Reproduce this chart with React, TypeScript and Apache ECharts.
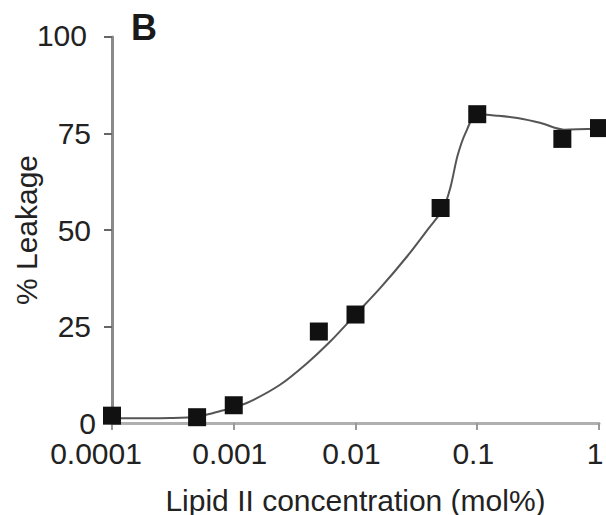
import React, { useEffect, useRef } from "react";
import * as echarts from "echarts";

const concentrations = [0.0001, 0.0005, 0.001, 0.005, 0.01, 0.05, 0.1, 0.5, 1];
const leakage = [1.9, 1.5, 4.6, 23.7, 28.1, 55.7, 80.0, 73.6, 76.4];

const fitX = [0.0001, 0.0003, 0.0005, 0.00068, 0.001, 0.00137, 0.0024, 0.004, 0.0062, 0.01, 0.016, 0.0266, 0.04, 0.0525, 0.0605, 0.0687, 0.08, 0.1, 0.147, 0.214, 0.333, 0.515, 1];
const fitY = [1.2, 1.3, 1.6, 2.6, 4.0, 5.6, 9.9, 15.5, 21.1, 28.1, 35.0, 43.2, 50.5, 55.5, 61.3, 69.1, 75.1, 80.0, 79.6, 79.0, 77.7, 76.0, 76.2];

const xTickValues = [0.0001, 0.001, 0.01, 0.1, 1];
const xTickLabels = ["0.0001", "0.001", "0.01", "0.1", "1"];
const yTicks = [0, 25, 50, 75, 100];

const xTitle = "Lipid II concentration (mol%)";
const yTitle = "% Leakage";
const panelLabel = "B";

const FONT = "'Liberation Sans', Arial, Helvetica, sans-serif";

export default function App() {
  const ref = useRef<HTMLDivElement>(null);
  useEffect(() => {
    if (!ref.current) return;
    const chart = echarts.init(ref.current, undefined, { renderer: "svg" });
    const labelFor = (v: number) => {
      let best = 0;
      let bd = Infinity;
      xTickValues.forEach((t, i) => {
        const d = Math.abs(Math.log10(v) - Math.log10(t));
        if (d < bd) {
          bd = d;
          best = i;
        }
      });
      const s = xTickLabels[best];
      return best === 0 ? `{first|${s}}` : `{n|${s}}`;
    };
    const yLabelFor = (v: number) => {
      if (v === 0) return `{z|${v}}`;
      if (v === 100) return `{h|${v}}`;
      return `{n|${v}}`;
    };
    const yRichBase = { fontFamily: FONT, fontSize: 30, color: "#222" };
    chart.setOption({
      animation: false,
      backgroundColor: "#ffffff",
      grid: { left: 112, right: 7, top: 37, bottom: 92, containLabel: false, outerBoundsMode: "none" },
      xAxis: {
        type: "log",
        logBase: 10,
        min: 0.0001,
        max: 1,
        name: xTitle,
        nameLocation: "middle",
        nameGap: 62,
        nameTextStyle: { fontFamily: FONT, fontSize: 30, color: "#222" },
        axisLine: { onZero: false, lineStyle: { color: "#b0b0b0", width: 3 } },
        axisTick: { show: true, length: 7, lineStyle: { color: "#999", width: 2 } },
        minorTick: { show: false },
        splitLine: { show: false },
        axisLabel: {
          margin: 15,
          formatter: (v: number) => labelFor(v),
          rich: {
            first: { fontFamily: FONT, fontSize: 30, color: "#222", padding: [0, 32, 0, 0] },
            n: { fontFamily: FONT, fontSize: 30, color: "#222", padding: [0, 8, 0, 0] },
          },
        },
      },
      yAxis: {
        type: "value",
        min: yTicks[0],
        max: yTicks[yTicks.length - 1],
        interval: 25,
        name: yTitle,
        nameLocation: "middle",
        nameGap: 71,
        nameMoveOverlap: false,
        nameRotate: 90,
        nameTextStyle: { fontFamily: FONT, fontSize: 30, color: "#222" },
        axisLine: { show: true, lineStyle: { color: "#8a8a8a", width: 3 } },
        axisTick: { show: true, length: 8, lineStyle: { color: "#666", width: 2 } },
        splitLine: { show: false },
        axisLabel: {
          margin: 16,
          formatter: (v: number) => yLabelFor(v),
          rich: {
            z: { ...yRichBase, padding: [0, 0, 0, 0] },
            n: { ...yRichBase, padding: [0, 5, 0, 0] },
            h: { ...yRichBase, padding: [0, 9, 4, 0] },
          },
        },
      },
      graphic: [
        {
          type: "text",
          left: 131,
          top: 9,
          style: { text: panelLabel, fontFamily: FONT, fontSize: 36, fontWeight: "bold", fill: "#1a1a1a" },
        },
      ],
      series: [
        {
          type: "line",
          data: fitX.map((x, i) => [x, fitY[i]]),
          smooth: 0.3,
          showSymbol: false,
          lineStyle: { color: "#555", width: 2 },
          z: 2,
        },
        {
          type: "scatter",
          data: concentrations.map((x, i) => [x, leakage[i]]),
          symbol: "rect",
          symbolSize: 18,
          itemStyle: { color: "#111111", opacity: 1 },
          clip: false,
          z: 3,
        },
      ],
    });
    return () => chart.dispose();
  }, []);
  return <div ref={ref} style={{ width: 606, height: 515, position: "absolute", left: 0, top: 0 }} />;
}
